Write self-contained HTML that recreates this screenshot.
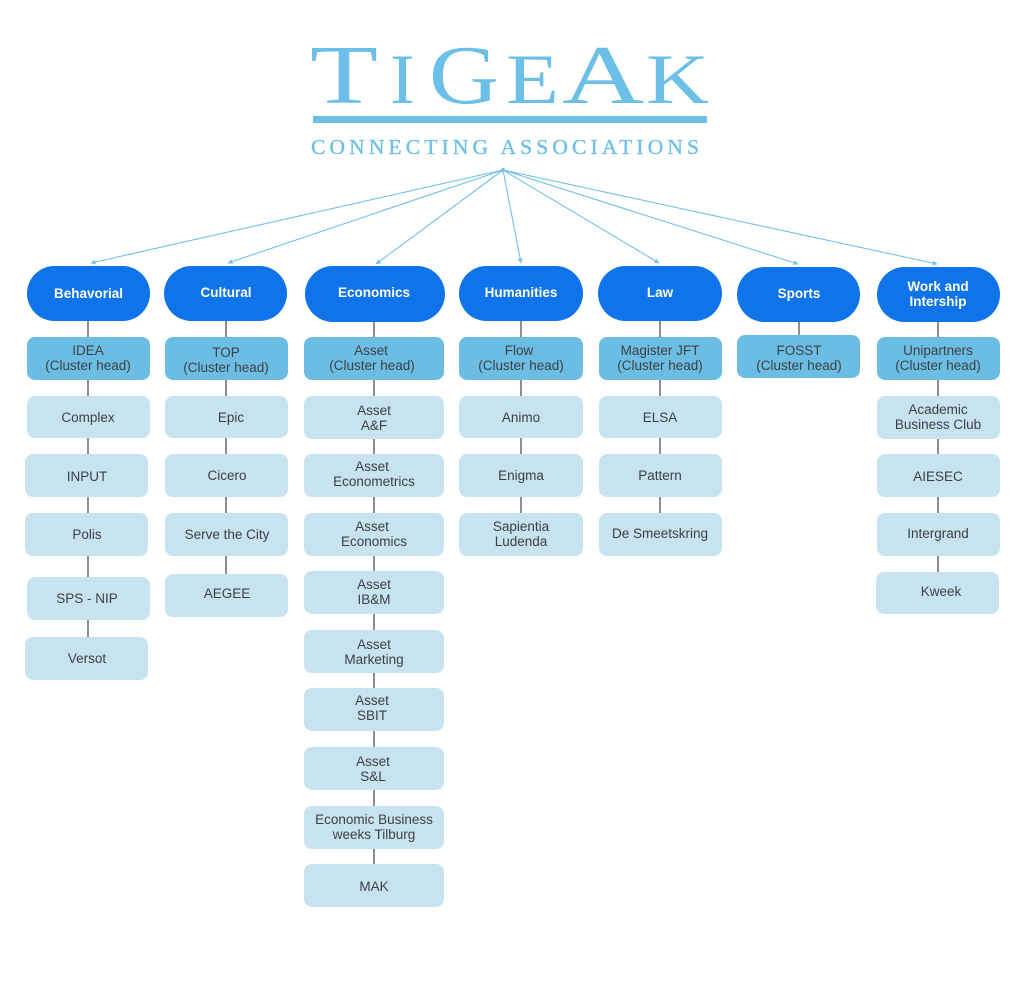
<!DOCTYPE html>
<html>
<head>
<meta charset="utf-8">
<style>
  html, body { margin:0; padding:0; background:#ffffff; }
  body { width:1024px; height:1000px; overflow:hidden; }
  svg { display:block; }
  .logo { font-family:"Liberation Serif", serif; fill:#6cc0e7; }
  .pill { fill:#0f73ea; }
  .ph { fill:#ffffff; font-family:"Liberation Sans", sans-serif; font-weight:bold; font-size:13.5px; text-anchor:middle; }
  .ch { fill:#6cbde4; }
  .mb { fill:#c7e3f0; }
  .t { fill:#3d4043; font-family:"Liberation Sans", sans-serif; font-size:13.5px; text-anchor:middle; }
  .con { stroke:#5f5f5f; stroke-width:1.4; }
  .arr { stroke:#72c1e6; stroke-width:1.1; fill:none; }
</style>
</head>
<body>
<svg width="1024" height="1000" viewBox="0 0 1024 1000" xmlns="http://www.w3.org/2000/svg">
  <defs>
    <marker id="ah" viewBox="0 0 10 10" refX="9" refY="5" markerWidth="5" markerHeight="5" orient="auto" markerUnits="userSpaceOnUse">
      <path d="M0,0 L10,5 L0,10 z" fill="#72c1e6"/>
    </marker>
  </defs>

  <!-- Logo -->
  <text class="logo" x="310" y="103" font-size="84" textLength="68" lengthAdjust="spacingAndGlyphs">T</text>
  <text class="logo" x="390" y="103" font-size="71" textLength="25" lengthAdjust="spacingAndGlyphs">I</text>
  <text class="logo" x="429" y="103" font-size="84" textLength="70" lengthAdjust="spacingAndGlyphs">G</text>
  <text class="logo" x="506" y="103" font-size="71" textLength="53" lengthAdjust="spacingAndGlyphs">E</text>
  <text class="logo" x="562" y="103" font-size="84" textLength="82" lengthAdjust="spacingAndGlyphs">A</text>
  <text class="logo" x="646" y="103" font-size="71" textLength="63" lengthAdjust="spacingAndGlyphs">K</text>
  <rect x="313" y="116" width="394" height="7" fill="#6cc0e7"/>
  <text class="logo" x="311" y="154" font-size="21.5" stroke="#6cc0e7" stroke-width="0.35" textLength="388" lengthAdjust="spacing">CONNECTING ASSOCIATIONS</text>

  <!-- Arrows -->
  <line class="arr" x1="503" y1="170" x2="91" y2="263" marker-end="url(#ah)"/>
  <line class="arr" x1="503" y1="170" x2="228" y2="263" marker-end="url(#ah)"/>
  <line class="arr" x1="503" y1="170" x2="376" y2="264" marker-end="url(#ah)"/>
  <line class="arr" x1="503" y1="170" x2="521" y2="263" marker-end="url(#ah)"/>
  <line class="arr" x1="503" y1="170" x2="659" y2="263" marker-end="url(#ah)"/>
  <line class="arr" x1="503" y1="170" x2="798" y2="264" marker-end="url(#ah)"/>
  <line class="arr" x1="503" y1="170" x2="937" y2="264" marker-end="url(#ah)"/>
  <circle cx="503" cy="170" r="2" fill="#72c1e6"/>

  <!-- Connectors -->
  <line class="con" x1="88" y1="320" x2="88" y2="638"/>
  <line class="con" x1="226" y1="320" x2="226" y2="575"/>
  <line class="con" x1="374" y1="320" x2="374" y2="865"/>
  <line class="con" x1="521" y1="320" x2="521" y2="514"/>
  <line class="con" x1="660" y1="320" x2="660" y2="514"/>
  <line class="con" x1="799" y1="320" x2="799" y2="336"/>
  <line class="con" x1="938" y1="320" x2="938" y2="573"/>

  <!-- Pills -->
  <rect class="pill" x="27" y="266" width="123" height="55" rx="27.5"/>
  <text class="ph" x="88.5" y="298">Behavorial</text>
  <rect class="pill" x="164" y="266" width="123" height="55" rx="27.5"/>
  <text class="ph" x="226" y="297">Cultural</text>
  <rect class="pill" x="305" y="266" width="140" height="56" rx="28"/>
  <text class="ph" x="374" y="297">Economics</text>
  <rect class="pill" x="459" y="266" width="124" height="55" rx="27.5"/>
  <text class="ph" x="521" y="297">Humanities</text>
  <rect class="pill" x="598" y="266" width="124" height="55" rx="27.5"/>
  <text class="ph" x="660" y="297">Law</text>
  <rect class="pill" x="737" y="267" width="123" height="55" rx="27.5"/>
  <text class="ph" x="799" y="298">Sports</text>
  <rect class="pill" x="877" y="267" width="123" height="55" rx="27.5"/>
  <text class="ph" x="938" y="291">Work and</text>
  <text class="ph" x="938" y="306">Intership</text>

  <!-- Behavorial column -->
  <rect class="ch" x="27" y="337" width="123" height="43" rx="8"/>
  <text class="t" x="88" y="355">IDEA</text>
  <text class="t" x="88" y="370">(Cluster head)</text>
  <rect class="mb" x="27" y="396" width="123" height="42" rx="8"/>
  <text class="t" x="88" y="422">Complex</text>
  <rect class="mb" x="25" y="454" width="123" height="43" rx="8"/>
  <text class="t" x="87" y="481">INPUT</text>
  <rect class="mb" x="25" y="513" width="123" height="43" rx="8"/>
  <text class="t" x="87" y="539">Polis</text>
  <rect class="mb" x="27" y="577" width="123" height="43" rx="8"/>
  <text class="t" x="87" y="603">SPS - NIP</text>
  <rect class="mb" x="25" y="637" width="123" height="43" rx="8"/>
  <text class="t" x="87" y="663">Versot</text>

  <!-- Cultural column -->
  <rect class="ch" x="165" y="337" width="123" height="43" rx="8"/>
  <text class="t" x="226" y="357">TOP</text>
  <text class="t" x="226" y="372">(Cluster head)</text>
  <rect class="mb" x="165" y="396" width="123" height="42" rx="8"/>
  <text class="t" x="231" y="422">Epic</text>
  <rect class="mb" x="165" y="454" width="123" height="43" rx="8"/>
  <text class="t" x="227" y="480">Cicero</text>
  <rect class="mb" x="165" y="513" width="123" height="43" rx="8"/>
  <text class="t" x="227" y="539">Serve the City</text>
  <rect class="mb" x="165" y="574" width="123" height="43" rx="8"/>
  <text class="t" x="227" y="598">AEGEE</text>

  <!-- Economics column -->
  <rect class="ch" x="304" y="337" width="140" height="43" rx="8"/>
  <text class="t" x="371" y="355">Asset</text>
  <text class="t" x="372" y="370">(Cluster head)</text>
  <rect class="mb" x="304" y="396" width="140" height="43" rx="8"/>
  <text class="t" x="374" y="415">Asset</text>
  <text class="t" x="374" y="430">A&amp;F</text>
  <rect class="mb" x="304" y="454" width="140" height="43" rx="8"/>
  <text class="t" x="372" y="471">Asset</text>
  <text class="t" x="374" y="486">Econometrics</text>
  <rect class="mb" x="304" y="513" width="140" height="43" rx="8"/>
  <text class="t" x="372" y="531">Asset</text>
  <text class="t" x="374" y="546">Economics</text>
  <rect class="mb" x="304" y="571" width="140" height="43" rx="8"/>
  <text class="t" x="374" y="589">Asset</text>
  <text class="t" x="374" y="604">IB&amp;M</text>
  <rect class="mb" x="304" y="630" width="140" height="43" rx="8"/>
  <text class="t" x="374" y="649">Asset</text>
  <text class="t" x="374" y="664">Marketing</text>
  <rect class="mb" x="304" y="688" width="140" height="43" rx="8"/>
  <text class="t" x="372" y="705">Asset</text>
  <text class="t" x="372" y="720">SBIT</text>
  <rect class="mb" x="304" y="747" width="140" height="43" rx="8"/>
  <text class="t" x="373" y="766">Asset</text>
  <text class="t" x="373" y="781">S&amp;L</text>
  <rect class="mb" x="304" y="806" width="140" height="43" rx="8"/>
  <text class="t" x="374" y="824">Economic Business</text>
  <text class="t" x="374" y="839">weeks Tilburg</text>
  <rect class="mb" x="304" y="864" width="140" height="43" rx="8"/>
  <text class="t" x="374" y="891">MAK</text>

  <!-- Humanities column -->
  <rect class="ch" x="459" y="337" width="124" height="43" rx="8"/>
  <text class="t" x="519" y="355">Flow</text>
  <text class="t" x="521" y="370">(Cluster head)</text>
  <rect class="mb" x="459" y="396" width="124" height="42" rx="8"/>
  <text class="t" x="521" y="422">Animo</text>
  <rect class="mb" x="459" y="454" width="124" height="43" rx="8"/>
  <text class="t" x="521" y="480">Enigma</text>
  <rect class="mb" x="459" y="513" width="124" height="43" rx="8"/>
  <text class="t" x="521" y="531">Sapientia</text>
  <text class="t" x="521" y="546">Ludenda</text>

  <!-- Law column -->
  <rect class="ch" x="599" y="337" width="123" height="43" rx="8"/>
  <text class="t" x="660" y="355">Magister JFT</text>
  <text class="t" x="660" y="370">(Cluster head)</text>
  <rect class="mb" x="599" y="396" width="123" height="42" rx="8"/>
  <text class="t" x="660" y="422">ELSA</text>
  <rect class="mb" x="599" y="454" width="123" height="43" rx="8"/>
  <text class="t" x="660" y="480">Pattern</text>
  <rect class="mb" x="599" y="513" width="123" height="43" rx="8"/>
  <text class="t" x="660" y="538">De Smeetskring</text>

  <!-- Sports column -->
  <rect class="ch" x="737" y="335" width="123" height="43" rx="8"/>
  <text class="t" x="799" y="355">FOSST</text>
  <text class="t" x="799" y="370">(Cluster head)</text>

  <!-- Work column -->
  <rect class="ch" x="877" y="337" width="123" height="43" rx="8"/>
  <text class="t" x="938" y="355">Unipartners</text>
  <text class="t" x="938" y="370">(Cluster head)</text>
  <rect class="mb" x="877" y="396" width="123" height="43" rx="8"/>
  <text class="t" x="938" y="414">Academic</text>
  <text class="t" x="938" y="429">Business Club</text>
  <rect class="mb" x="877" y="454" width="123" height="43" rx="8"/>
  <text class="t" x="938" y="481">AIESEC</text>
  <rect class="mb" x="877" y="513" width="123" height="43" rx="8"/>
  <text class="t" x="938" y="538">Intergrand</text>
  <rect class="mb" x="876" y="572" width="123" height="42" rx="8"/>
  <text class="t" x="941" y="596">Kweek</text>
</svg>
</body>
</html>
